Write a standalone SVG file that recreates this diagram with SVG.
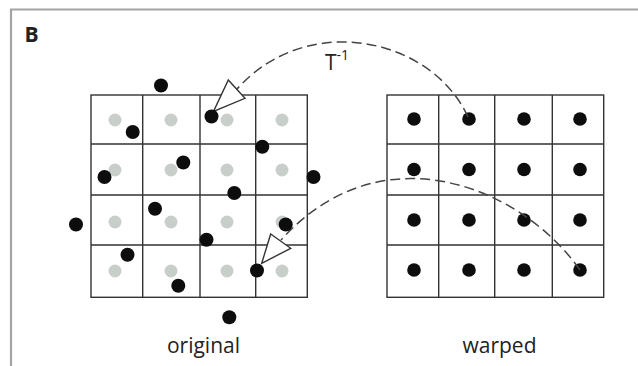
<svg xmlns="http://www.w3.org/2000/svg" width="638" height="366" viewBox="0 0 638 366">
  <style>
    .frame { stroke: #a3a3a3; stroke-width: 2.2; fill: none; }
    .grid { stroke: #333; stroke-width: 1.4; fill: none; }
    .gdot { fill: #c8cfca; }
    .bdot { fill: #0d0d0d; }
    .conn { stroke: #444; stroke-width: 1.5; fill: none; stroke-dasharray: 10 5; }
    .head { stroke: #333; stroke-width: 1.4; fill: #fff; stroke-linejoin: miter; }
    .lbl { font-family: "Open Sans", "Liberation Sans", sans-serif; fill: #222; }
  </style>
  <rect width="638" height="366" fill="#fff"/>
  <g id="frame">
    <path class="frame" d="M10,9.5 H638 M11,9 V366"/>
    <text class="lbl" x="24.5" y="42" font-size="21" font-weight="bold" fill="#111">B</text>
  </g>

  <g id="original">
    <g class="grid">
      <rect x="91" y="95" width="216.3" height="202.3"/>
      <path d="M142.7,95 V297.3 M200,95 V297.3 M255.7,95 V297.3 M91,144 H307.3 M91,195 H307.3 M91,245 H307.3"/>
    </g>
    <g class="gdot">
      <circle cx="115" cy="120" r="6.5"/><circle cx="171" cy="120" r="6.5"/><circle cx="227" cy="120" r="6.5"/><circle cx="282" cy="120" r="6.5"/>
      <circle cx="115" cy="170" r="6.5"/><circle cx="171" cy="170" r="6.5"/><circle cx="227" cy="170" r="6.5"/><circle cx="282" cy="170" r="6.5"/>
      <circle cx="115" cy="222" r="6.5"/><circle cx="171" cy="222" r="6.5"/><circle cx="227" cy="222" r="6.5"/><circle cx="282" cy="222" r="6.5"/>
      <circle cx="115" cy="271" r="6.5"/><circle cx="171" cy="271" r="6.5"/><circle cx="227" cy="271" r="6.5"/><circle cx="282" cy="271" r="6.5"/>
    </g>
    <text class="lbl" x="203.5" y="353" font-size="21" text-anchor="middle">original</text>
  </g>

  <g id="warped">
    <g class="grid">
      <rect x="387" y="95" width="216.7" height="202.3"/>
      <path d="M438.7,95 V297.3 M494.7,95 V297.3 M552.3,95 V297.3 M387,144 H603.7 M387,195 H603.7 M387,245 H603.7"/>
    </g>
    <g class="bdot">
      <circle cx="414" cy="119" r="6.8"/><circle cx="469" cy="119" r="6.8"/><circle cx="524" cy="119" r="6.8"/><circle cx="580" cy="119" r="6.8"/>
      <circle cx="414" cy="169.5" r="6.8"/><circle cx="469" cy="169.5" r="6.8"/><circle cx="524" cy="169.5" r="6.8"/><circle cx="580" cy="169.5" r="6.8"/>
      <circle cx="414" cy="220" r="6.8"/><circle cx="469" cy="220" r="6.8"/><circle cx="524" cy="220" r="6.8"/><circle cx="580" cy="220" r="6.8"/>
      <circle cx="414" cy="270" r="6.8"/><circle cx="469" cy="270" r="6.8"/><circle cx="524" cy="270" r="6.8"/><circle cx="580" cy="270" r="6.8"/>
    </g>
    <text class="lbl" x="499.5" y="353" font-size="21" text-anchor="middle">warped</text>
  </g>

  <g id="connectors">
    <path class="conn" d="M468,117 C432,38 308,10 237,89"/>
    <path class="conn" d="M580,270 C520,185 380,130 281,240"/>
    <polygon class="head" points="228.3,80 245,98.3 213.5,111.5"/>
    <polygon class="head" points="270.7,234 290.7,248.3 261.7,263.3"/>
    <text class="lbl" x="325" y="70" font-size="21">T<tspan font-size="14" dy="-10">-1</tspan></text>
  </g>

  <g id="original-points" class="bdot">
    <circle cx="161" cy="85.5" r="7"/>
    <circle cx="211.5" cy="116.5" r="7"/>
    <circle cx="132.7" cy="132" r="7"/>
    <circle cx="262.3" cy="146.7" r="7"/>
    <circle cx="183.3" cy="162.5" r="7"/>
    <circle cx="104.5" cy="177" r="7"/>
    <circle cx="313.5" cy="177" r="7"/>
    <circle cx="234.3" cy="193" r="7"/>
    <circle cx="155" cy="208.7" r="7"/>
    <circle cx="76" cy="224.5" r="7"/>
    <circle cx="285.7" cy="224.5" r="7"/>
    <circle cx="206.5" cy="239.7" r="7"/>
    <circle cx="127.5" cy="254.7" r="7"/>
    <circle cx="257" cy="270.5" r="7"/>
    <circle cx="178.3" cy="285.7" r="7"/>
    <circle cx="229.3" cy="317.3" r="7"/>
  </g>
</svg>
